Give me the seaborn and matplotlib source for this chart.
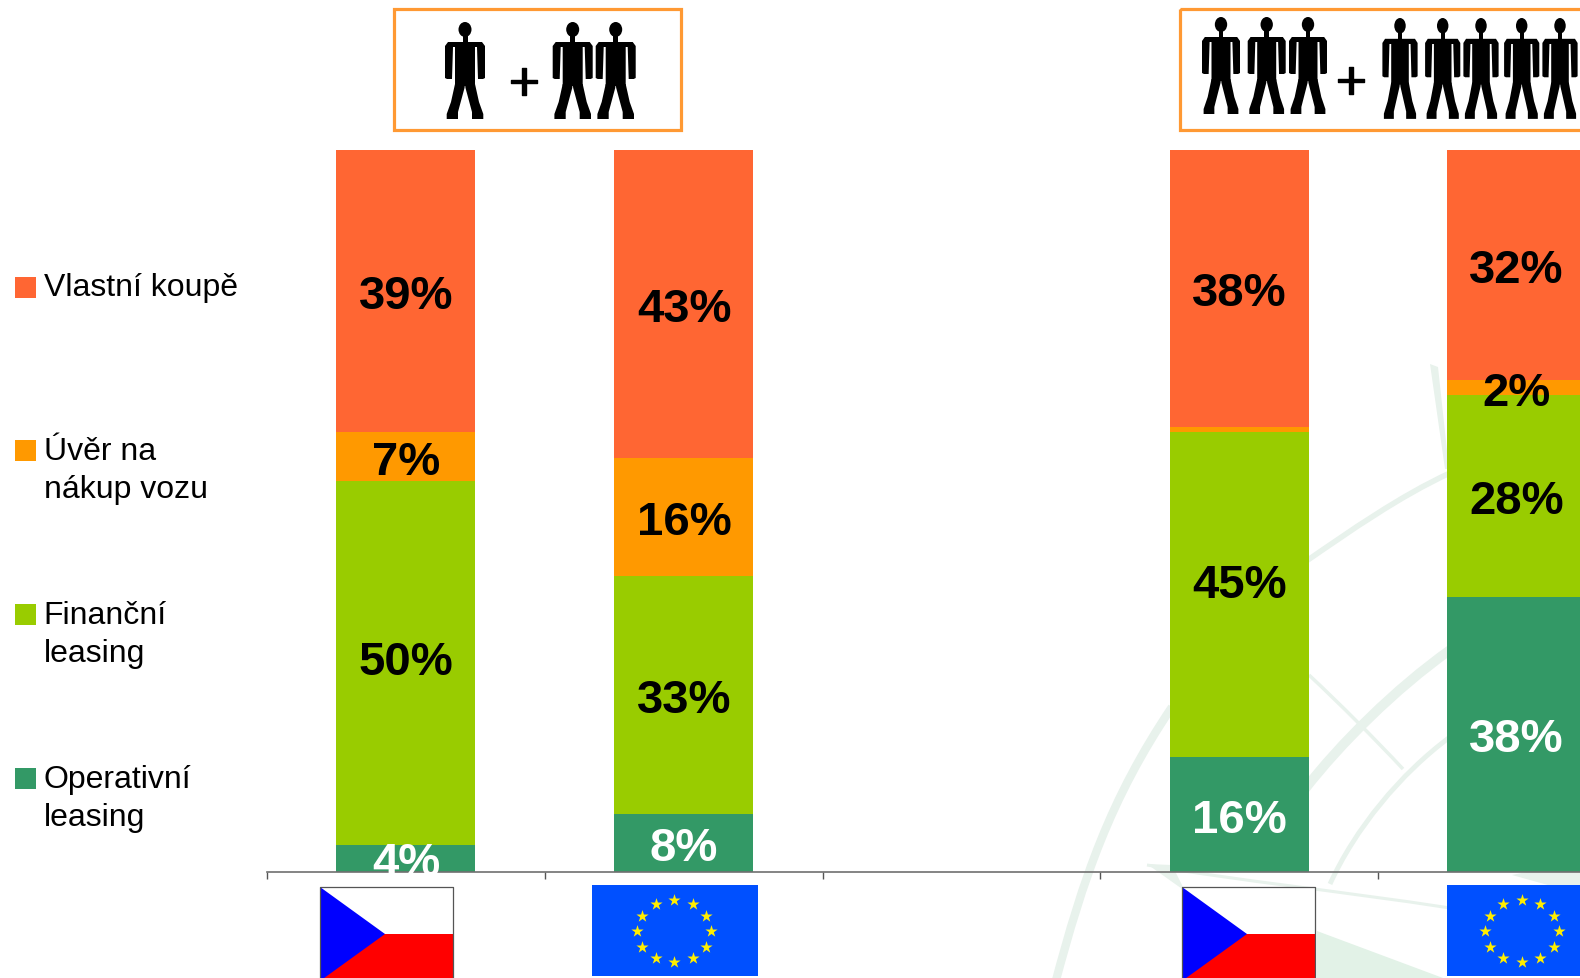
import numpy as np
import matplotlib
matplotlib.use("Agg")
import matplotlib.pyplot as plt
import matplotlib.patheffects as pe
import seaborn as sns
from matplotlib.patches import Ellipse, Polygon, Rectangle, PathPatch
from matplotlib.path import Path

# slot 2 stays empty, it separates the two household groups
positions = [0, 1, 3, 4]
operativni = [3.8, 8.0, 15.9, 38.1]
financni = [50.3, 33.0, 45.0, 27.9]
uver = [6.8, 16.4, 0.8, 2.2]
vlastni = [39.1, 42.6, 38.3, 31.8]

operativni_labels = ["4%", "8%", "16%", "38%"]
financni_labels = ["50%", "33%", "45%", "28%"]
uver_labels = ["7%", "16%", "", "2%"]
vlastni_labels = ["39%", "43%", "38%", "32%"]

legend_labels = ["Vlastní koupě", "Úvěr na\nnákup vozu", "Finanční\nleasing", "Operativní\nleasing"]
colors = ["#FF6633", "#FF9900", "#99CC00", "#339966"]

sns.set_style("white")
plt.rcParams["font.family"] = ["Liberation Sans", "DejaVu Sans"]

W, H = 1580, 979
fig = plt.figure(figsize=(W / 100, H / 100), dpi=100, facecolor="white")

# pixel space axes for the watermark (behind) and the pictures (in front)
back = fig.add_axes([0, 0, 1, 1], zorder=0)
over = fig.add_axes([0, 0, 1, 1], zorder=2)
for a in (back, over):
    a.set_xlim(0, W)
    a.set_ylim(H, 0)
    a.axis("off")
    a.patch.set_alpha(0)

left, base, top = 267, 873, 151
step = 277.75
ax = fig.add_axes([left / W, 1 - base / H, (W - left) / W, (base - top) / H], zorder=1)
ax.patch.set_alpha(0)

bottom = np.zeros(4)
stack = [(operativni, operativni_labels, colors[3], "white"),
         (financni, financni_labels, colors[2], "black"),
         (uver, uver_labels, colors[1], "black"),
         (vlastni, vlastni_labels, colors[0], "black")]
for values, labels, color, text_color in stack:
    sns.barplot(x=positions, y=values, bottom=bottom, color=color, saturation=1,
                width=0.5, native_scale=True, linewidth=0, ax=ax)
    anns = ax.bar_label(ax.containers[-1], labels=labels, label_type="center", color=text_color,
                        fontsize=34, fontweight="bold", zorder=5)
    # the labels sit a little below the middle of their segment in the original
    for ann, pos, lab in zip(anns, positions, labels):
        dy = -3.6
        if lab == "45%":
            dy = 7.2
        if lab == "50%":
            dy = 0.7
        ann.xyann = (1.8 if pos == 4 else 0.3, dy)
    bottom = bottom + np.array(values)

ax.set_xlim(-0.5, (W - left) / step - 0.5)
ax.set_ylim(0, 100)
ax.set_xticks([-0.5, 0.5, 1.5, 2.5, 3.5])
ax.set_xticklabels([])
ax.set_yticks([])
ax.set_xlabel("")
ax.set_ylabel("")
ax.tick_params(axis="x", bottom=True, length=5, width=1, color="#555555")
sns.despine(ax=ax, left=True)
ax.spines["bottom"].set_color("#707070")
ax.spines["bottom"].set_linewidth(1.2)

# watermark
pale = "#E8F2EC"


def arc(pts, lw):
    codes = [Path.MOVETO] + [Path.CURVE4] * (len(pts) - 1)
    back.add_patch(PathPatch(Path(pts, codes), fill=False, edgecolor=pale, lw=lw, capstyle="butt"))


arc([(1055, 985), (1083, 880), (1110, 800), (1172, 708)], 6)
arc([(1305, 563), (1350, 532), (1400, 497), (1450, 474)], 4)
arc([(1305, 790), (1340, 745), (1395, 690), (1450, 651)], 7)
arc([(1330, 885), (1355, 830), (1400, 775), (1450, 738)], 3.5)
arc([(1309, 676), (1340, 705), (1375, 740), (1403, 770)], 2.5)
arc([(1147, 866), (1240, 882), (1340, 892), (1450, 909)], 2.2)
back.add_patch(Polygon([(1430, 365), (1438, 368), (1449, 470), (1445, 470)], color=pale, lw=0))
back.add_patch(Polygon([(1147, 865), (1172, 866), (1185, 892)], color=pale, lw=0))
back.add_patch(Polygon([(1317, 932), (1443, 979), (1317, 979)], color="#E2F2E7", lw=0))
back.add_patch(Polygon([(1512, 876), (1580, 862), (1580, 895)], color=pale, lw=0))

# legend
swatch_y = [278, 441, 605, 769]
text_y = [273.5, 437.5, 601.5, 765.5]
for y, ty, label, color in zip(swatch_y, text_y, legend_labels, colors):
    over.add_patch(Rectangle((15, y), 21, 21, color=color, lw=0))
    over.text(43.5, ty, label, fontsize=23, va="top", ha="left", color="black", linespacing=1.32)


# pictogram of a person, sizes in pixels around the centre line
def person(cx, y0, sx=1.0, sy=1.0):
    def P(pts, mirror=False):
        m = -1 if mirror else 1
        return [(cx + m * sx * px, y0 + sy * py) for px, py in pts]

    over.add_patch(Ellipse((cx, y0 + 7.5 * sy), 13 * sx, 15 * sy, color="black", lw=0))
    over.add_patch(Polygon(P([(-2.5, 13), (2.5, 13), (2.5, 22), (-2.5, 22)]), color="black", lw=0))
    torso = [(-17, 20), (17, 20), (20, 24), (20, 56), (18, 57), (13, 57), (12, 25), (10, 25),
             (10, 64), (-10, 64), (-10, 25), (-12, 25), (-13, 57), (-18, 57), (-20, 56), (-20, 24)]
    over.add_patch(Polygon(P(torso), color="black", lw=0))
    leg = [(10, 62), (0, 62), (0.5, 66), (7, 90), (7, 97), (18.3, 97), (18.3, 92), (14, 80)]
    over.add_patch(Polygon(P(leg), color="black", lw=0))
    over.add_patch(Polygon(P(leg, mirror=True), color="black", lw=0))


def box(x0, x1):
    over.add_patch(Rectangle((x0, 9.5), x1 - x0, 121, fill=False, edgecolor="#FF9933", lw=2.3))


box(393.5, 680.5)
box(1180, 1600)
for cx in [465, 572.7, 615.7]:
    person(cx, 23)
for cx in [1221, 1266.7, 1308]:
    person(cx, 18, sx=0.95)
for cx in [1400, 1442.7, 1481, 1521.7, 1560]:
    person(cx, 19, sx=0.88, sy=1.04)
stroke = [pe.withStroke(linewidth=1.0, foreground="black")]
over.text(524, 81, "+", fontsize=39, ha="center", va="center_baseline", color="black", path_effects=stroke)
over.text(1351, 80, "+", fontsize=39, ha="center", va="center_baseline", color="black", path_effects=stroke)


# flags
def czech(x0):
    x1 = x0 + 133
    over.add_patch(Rectangle((x0, 888), 133, 47, color="white", lw=0))
    over.add_patch(Rectangle((x0, 935), 133, 50, color="#FF0000", lw=0))
    over.add_patch(Polygon([(x0, 888), (x0 + 65, 935), (x0, 982)], color="#0000FF", lw=0))
    over.plot([x0, x0, x1, x1], [985, 888, 888, 985], color="#555555", lw=0.9)


def eu(x0, cx):
    over.add_patch(Rectangle((x0, 886), 166, 91, color="#0050FF", lw=0))
    angles = np.linspace(0, 2 * np.pi, 12, endpoint=False)
    over.scatter(cx + 37 * np.sin(angles), 932 - 31 * np.cos(angles), marker="*", s=85,
                 color="#FFEE00", linewidths=0)


czech(320)
eu(592, 674)
czech(1182)
eu(1447, 1521.6)
over.set_xlim(0, W)
over.set_ylim(H, 0)

fig.savefig("out.png", dpi=100)
